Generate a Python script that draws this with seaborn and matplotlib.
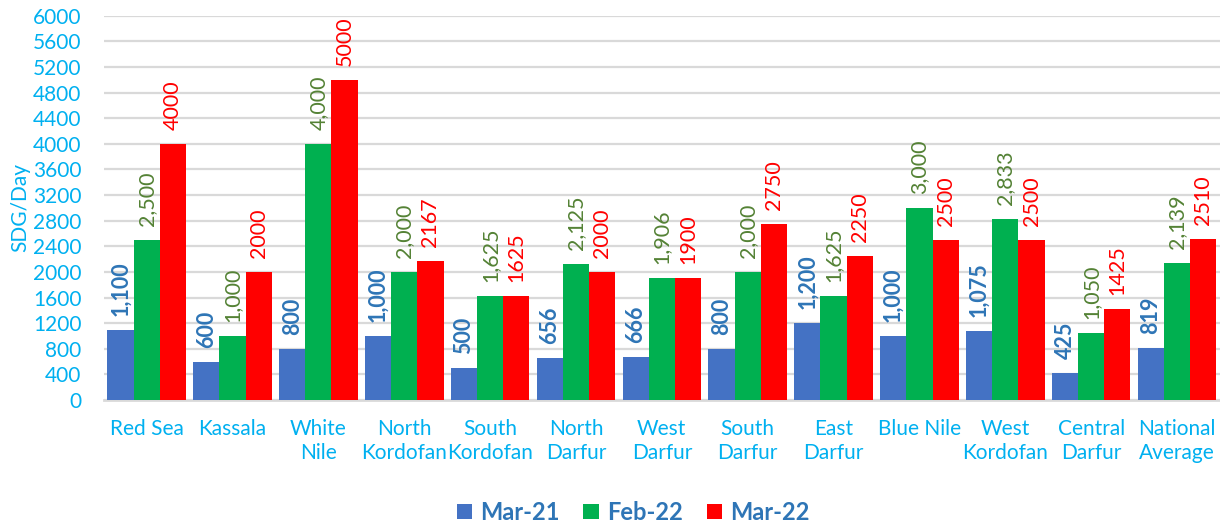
import matplotlib
matplotlib.use("Agg")
import matplotlib.pyplot as plt
import seaborn as sns
import pandas as pd
from matplotlib.patches import Patch

categories = ["Red Sea", "Kassala", "White\nNile", "North\nKordofan", "South\nKordofan",
              "North\nDarfur", "West\nDarfur", "South\nDarfur", "East\nDarfur", "Blue Nile",
              "West\nKordofan", "Central\nDarfur", "National\nAverage"]
series = ["Mar-21", "Feb-22", "Mar-22"]
mar21 = [1100, 600, 800, 1000, 500, 656, 666, 800, 1200, 1000, 1075, 425, 819]
feb22 = [2500, 1000, 4000, 2000, 1625, 2125, 1906, 2000, 1625, 3000, 2833, 1050, 2139]
mar22 = [4000, 2000, 5000, 2167, 1625, 2000, 1900, 2750, 2250, 2500, 2500, 1425, 2510]
yticks = list(range(0, 6001, 400))

bar_colors = ["#4472C4", "#00B050", "#FF0000"]
label_colors = ["#2E75B6", "#548235", "#FF0000"]
label_weights = ["bold", "normal", "normal"]
label_fmt = ["{:,.0f}", "{:,.0f}", "{:.0f}"]
tick_color = "#00B0F0"

rows = []
for s, vals in zip(series, [mar21, feb22, mar22]):
    for c, v in zip(categories, vals):
        rows.append({"Region": c, "Period": s, "Value": v})
df = pd.DataFrame(rows)

sns.set_theme(style="white")
plt.rcParams["font.family"] = ["Lato", "DejaVu Sans"]

fig = plt.figure(figsize=(12.2, 5.27), dpi=100)
ax = fig.add_axes([0.085, 0.241, 0.915, 0.729])

sns.barplot(data=df, x="Region", y="Value", hue="Period", order=categories,
            hue_order=series, palette=bar_colors, width=0.915, gap=0,
            saturation=1, ax=ax, legend=False, zorder=3, linewidth=0)

for i, cont in enumerate(ax.containers):
    vals = [mar21, feb22, mar22][i]
    ax.bar_label(cont, labels=[label_fmt[i].format(v) for v in vals], rotation=90,
                 padding=10, color=label_colors[i], fontsize=15.5,
                 fontweight=label_weights[i])

ax.set_ylim(0, 6000)
ax.set_xlim(-0.5, len(categories) - 0.5)
ax.set_yticks(yticks)
ax.set_yticklabels([str(t) for t in yticks])
ax.yaxis.grid(True, color="#D9D9D9", linewidth=1.6, zorder=0)
ax.set_axisbelow(True)
for sp in ["top", "right", "left"]:
    ax.spines[sp].set_visible(False)
ax.spines["bottom"].set_color("#D9D9D9")
ax.spines["bottom"].set_linewidth(2)
ax.tick_params(axis="y", colors=tick_color, labelsize=15, length=0, pad=16)
ax.tick_params(axis="x", colors=tick_color, labelsize=15, length=0, pad=14)
ax.set_xlabel("")
ax.set_ylabel("SDG/Day", color=tick_color, fontsize=15, labelpad=4)
ax.yaxis.set_label_coords(-0.066, 0.5)

handles = [Patch(facecolor=c, edgecolor="none") for c in bar_colors]
leg = fig.legend(handles, series, loc="center", bbox_to_anchor=(0.519, 0.028), ncol=3,
                 frameon=False, fontsize=17, handlelength=0.65, handleheight=0.65,
                 columnspacing=1.0, handletextpad=0.35)
for t in leg.get_texts():
    t.set_color("#2E75B6")
    t.set_fontweight("bold")

fig.savefig("out.png", dpi=100)
